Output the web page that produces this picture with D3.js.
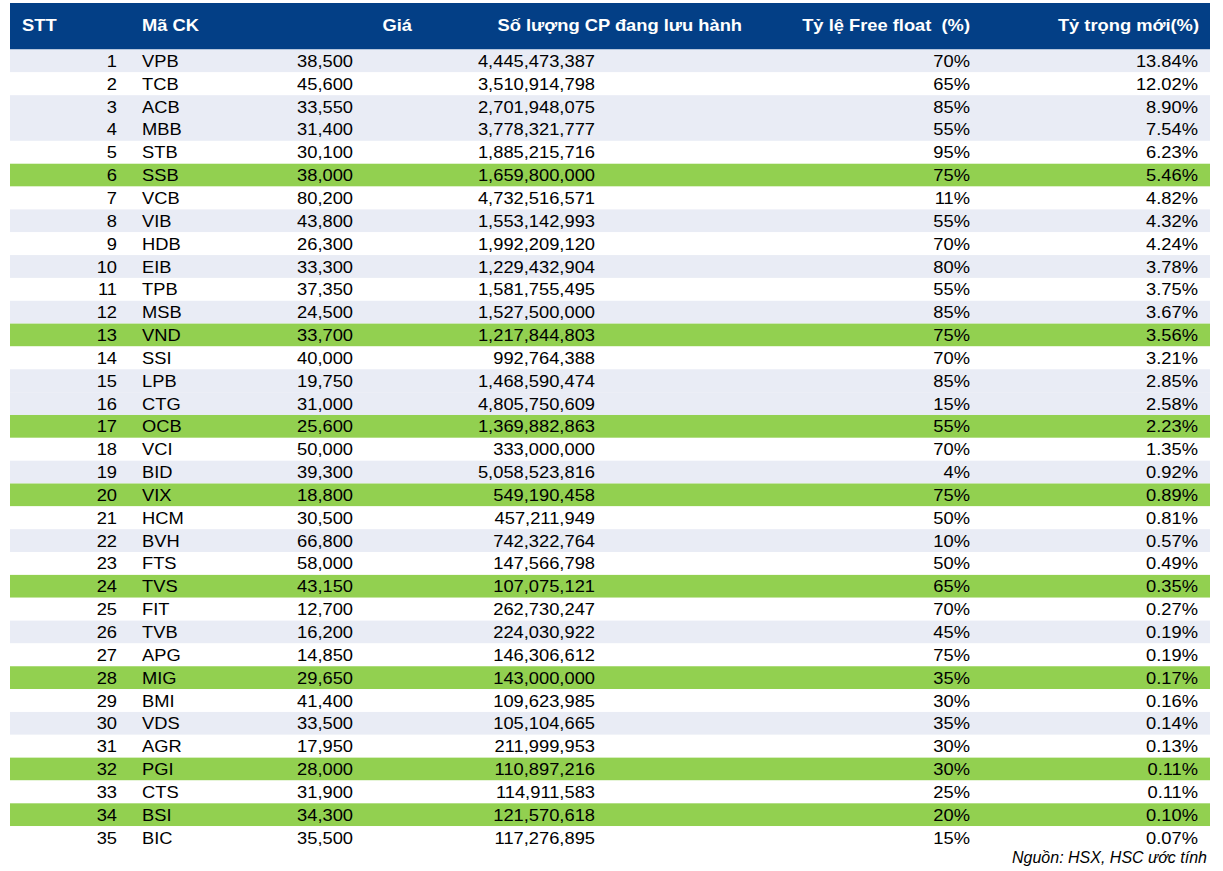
<!DOCTYPE html>
<html>
<head>
<meta charset="utf-8">
<script src="https://cdn.jsdelivr.net/npm/d3@7"></script>
<style>
  body { margin: 0; background: #fff; }
  svg { display: block; font-family: "Liberation Sans", Arial, sans-serif; }
  text { white-space: pre; }
</style>
</head>
<body>
<svg id="table" width="1223" height="871"></svg>
<script>
const width = 1223, height = 871;

// data
const tickers = ["VPB","TCB","ACB","MBB","STB","SSB","VCB","VIB","HDB","EIB","TPB","MSB","VND","SSI","LPB","CTG","OCB","VCI","BID","VIX","HCM","BVH","FTS","TVS","FIT","TVB","APG","MIG","BMI","VDS","AGR","PGI","CTS","BSI","BIC"];
const prices = [38500,45600,33550,31400,30100,38000,80200,43800,26300,33300,37350,24500,33700,40000,19750,31000,25600,50000,39300,18800,30500,66800,58000,43150,12700,16200,14850,29650,41400,33500,17950,28000,31900,34300,35500];
const shares = [4445473387,3510914798,2701948075,3778321777,1885215716,1659800000,4732516571,1553142993,1992209120,1229432904,1581755495,1527500000,1217844803,992764388,1468590474,4805750609,1369882863,333000000,5058523816,549190458,457211949,742322764,147566798,107075121,262730247,224030922,146306612,143000000,109623985,105104665,211999953,110897216,114911583,121570618,117276895];
const freeFloat = [70,65,85,55,95,75,11,55,70,80,55,85,75,70,85,15,55,70,4,75,50,10,50,65,70,45,75,35,30,35,30,30,25,20,15];
const weights = [13.84,12.02,8.90,7.54,6.23,5.46,4.82,4.32,4.24,3.78,3.75,3.67,3.56,3.21,2.85,2.58,2.23,1.35,0.92,0.89,0.81,0.57,0.49,0.35,0.27,0.19,0.19,0.17,0.16,0.14,0.13,0.11,0.11,0.10,0.07];
const highlighted = ["SSB","VND","OCB","VIX","TVS","MIG","PGI","BSI"];
const headers = ["STT","Mã CK","Giá","Số lượng CP đang lưu hành","Tỷ lệ Free float  (%)","Tỷ trọng mới(%)"];
const source = "Nguồn: HSX, HSC ước tính";

// striping as it appears in the sheet (g = grey band, w = white)
const stripes = "gwggwgwgwgwggwgggwgwwgwgwgwgwgwgwgw";

const rows = tickers.map((t, i) => ({
  stt: i + 1, ticker: t, price: prices[i], shares: shares[i],
  ff: freeFloat[i], w: weights[i],
  fill: highlighted.includes(t) ? "#92d050" : (stripes[i] === "g" ? "#e9ecf5" : "#ffffff")
}));

const svg = d3.select("#table");
const left = 10, right = 1210;
const headTop = 3, headBottom = 49.5, rowsBottom = 849;
const fontSize = 16.8, stretch = 1.09;

const y = d3.scaleBand()
  .domain(rows.map(d => d.stt))
  .range([headBottom, rowsBottom])
  .padding(0);

const fmt = d3.format(",");
const columns = [
  { x: 117, anchor: "end", text: d => d.stt },
  { x: 142, anchor: "start", text: d => d.ticker },
  { x: 353, anchor: "end", text: d => fmt(d.price) },
  { x: 595, anchor: "end", text: d => fmt(d.shares) },
  { x: 970, anchor: "end", text: d => d.ff + "%" },
  { x: 1198, anchor: "end", text: d => d.w.toFixed(2) + "%" }
];
const headerPos = [
  { x: 22, anchor: "start" },
  { x: 142, anchor: "start" },
  { x: 412, anchor: "end" },
  { x: 742, anchor: "end" },
  { x: 970, anchor: "end" },
  { x: 1199, anchor: "end" }
];

// header band
svg.append("rect")
  .attr("x", left).attr("y", headTop)
  .attr("width", right - left).attr("height", headBottom - headTop)
  .attr("fill", "#033f86");

svg.selectAll(".head")
  .data(headers)
  .enter().append("text")
  .attr("class", "head")
  .attr("transform", (_, i) => `translate(${headerPos[i].x},31) scale(${stretch},1)`)
  .attr("text-anchor", (_, i) => headerPos[i].anchor)
  .attr("fill", "#fff")
  .attr("font-weight", "bold")
  .attr("font-size", fontSize)
  .text(d => d);

// rows
const rowG = svg.selectAll(".row")
  .data(rows)
  .enter().append("g")
  .attr("class", "row")
  .attr("transform", d => `translate(0,${y(d.stt)})`);

rowG.append("rect")
  .attr("x", left)
  .attr("width", right - left)
  .attr("height", y.bandwidth())
  .attr("fill", d => d.fill);

columns.forEach(col => {
  rowG.append("text")
    .attr("transform", `translate(${col.x},${y.bandwidth() / 2 + 6}) scale(${stretch},1)`)
    .attr("text-anchor", col.anchor)
    .attr("font-size", fontSize)
    .attr("fill", "#000")
    .text(col.text);
});

svg.append("text")
  .attr("x", 1207)
  .attr("y", 863)
  .attr("text-anchor", "end")
  .attr("font-size", 16)
  .attr("font-style", "italic")
  .attr("fill", "#000")
  .text(source);
</script>
</body>
</html>
